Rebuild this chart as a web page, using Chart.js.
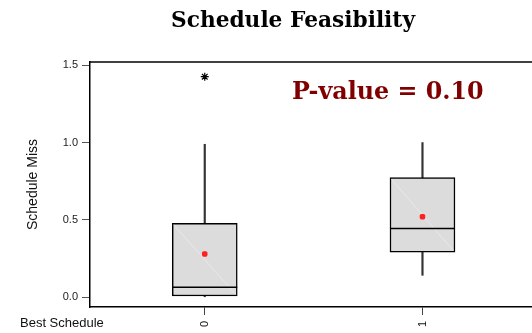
<!DOCTYPE html>
<html>
<head>
<meta charset="utf-8">
<script src="https://cdn.jsdelivr.net/npm/chart.js@4/dist/chart.umd.min.js"></script>
<style>
  html, body { margin: 0; padding: 0; background: #fff; overflow: hidden; }
  canvas { display: block; }
</style>
</head>
<body>
<canvas id="boxChart" width="532" height="333"></canvas>
<script>
// Best Schedule groups (0 / 1)
let groups = [0, 1];
let whiskerLow = [0.0, 0.142];
let q1 = [0.008, 0.291];
let median = [0.065, 0.444];
let q3 = [0.478, 0.773];
let whiskerHigh = [0.989, 1.0];
let means = [0.28, 0.521];
let outlierX = [0];
let outlierY = [1.426];

let yTicks = [0, 0.5, 1.0, 1.5];
let xTicks = [0, 1];

let titleText = 'Schedule Feasibility';
let pValueText = 'P-value = 0.10';
let yTitle = 'Schedule Miss';
let xTitle = 'Best Schedule';

// fit a bold serif string into a given pixel width
function fitFont(ctx, text, family, width) {
    ctx.font = 'bold 100px ' + family;
    let size = 100 * width / ctx.measureText(text).width;
    return 'bold ' + size.toFixed(1) + 'px ' + family;
}

const textPlugin = {
    id: 'textPlugin',
    afterDatasetDraw(chart, args) {
        // faint diagonal inside each box
        if (args.index !== 0) return;
        const ctx = chart.ctx;
        ctx.save();
        ctx.strokeStyle = '#ebebeb';
        ctx.lineWidth = 0.8;
        args.meta.data.forEach(bar => {
            const p = bar.getProps(['x', 'y', 'base', 'width']);
            ctx.beginPath();
            ctx.moveTo(p.x - p.width / 2 + 1.5, p.y + 1.5);
            ctx.lineTo(p.x + p.width / 2 - 1.5, p.base - 1.5);
            ctx.stroke();
        });
        ctx.restore();
    },
    afterDraw(chart) {
        const ctx = chart.ctx;
        const area = chart.chartArea;
        ctx.save();

        // top frame line
        ctx.strokeStyle = '#000';
        ctx.lineWidth = 1.5;
        ctx.beginPath();
        ctx.moveTo(area.left, area.top);
        ctx.lineTo(area.right, area.top);
        ctx.stroke();

        ctx.fillStyle = '#000';
        ctx.textBaseline = 'alphabetic';
        ctx.textAlign = 'center';
        ctx.font = fitFont(ctx, titleText, '"DejaVu Serif", serif', 244);
        ctx.fillText(titleText, 293, 27);

        ctx.fillStyle = '#800000';
        ctx.textAlign = 'left';
        ctx.font = fitFont(ctx, pValueText, '"DejaVu Serif", serif', 192);
        ctx.fillText(pValueText, 292, 99);

        ctx.fillStyle = '#111';
        ctx.font = '13px "Liberation Sans", Arial, sans-serif';
        ctx.fillText(xTitle, 20, 327);
        ctx.restore();
    }
};

const ctx = document.getElementById('boxChart').getContext('2d');

const boxChart = new Chart(ctx, {
    type: 'bar',
    data: {
        datasets: [{
            label: 'box',
            data: groups.map((g, i) => ({ x: g, y: [q1[i], q3[i]] })),
            backgroundColor: '#dcdcdc',
            borderColor: '#000',
            borderWidth: 1.5,
            borderSkipped: false,
            barThickness: 65,
            grouped: false,
            order: 5
        }, {
            label: 'upper whisker',
            data: groups.map((g, i) => ({ x: g, y: [q3[i], whiskerHigh[i]] })),
            backgroundColor: '#333',
            borderWidth: 0,
            barThickness: 1.5,
            grouped: false,
            order: 6
        }, {
            label: 'lower whisker',
            data: groups.map((g, i) => ({ x: g, y: [whiskerLow[i], q1[i]] })),
            backgroundColor: '#333',
            borderWidth: 0,
            barThickness: 1.5,
            grouped: false,
            order: 6
        }, {
            type: 'scatter',
            label: 'median',
            data: groups.map((g, i) => ({ x: g, y: median[i] })),
            pointStyle: 'line',
            pointRadius: 32.5,
            borderColor: '#000',
            borderWidth: 1.5,
            order: 3
        }, {
            type: 'scatter',
            label: 'mean',
            data: groups.map((g, i) => ({ x: g, y: means[i] })),
            pointStyle: 'rectRounded',
            pointRadius: 3.2,
            backgroundColor: '#ff2020',
            borderColor: '#ff2020',
            borderWidth: 0,
            order: 2
        }, {
            type: 'scatter',
            label: 'outlier',
            data: outlierX.map((g, i) => ({ x: g, y: outlierY[i] })),
            pointStyle: 'star',
            pointRadius: 4,
            borderColor: '#000',
            borderWidth: 1.2,
            order: 1
        }]
    },
    options: {
        responsive: false,
        animation: false,
        // the median marks are wide points, keep them from padding the chart area
        layout: { autoPadding: false, padding: { top: 62, left: 0, right: 0, bottom: 0 } },
        plugins: {
            legend: { display: false },
            tooltip: { enabled: false }
        },
        scales: {
            x: {
                type: 'linear',
                min: -0.527,
                max: 1.503,
                offset: false,
                afterBuildTicks: scale => { scale.ticks = xTicks.map(v => ({ value: v })); },
                afterFit: scale => {
                    scale.height = 26;
                    scale.paddingLeft = 0;
                    scale.paddingRight = 0;
                },
                border: { color: '#000', width: 1.5 },
                grid: { display: true, drawOnChartArea: false, drawTicks: true, tickLength: 8, color: '#444', offset: false },
                ticks: {
                    autoSkip: false,
                    minRotation: 90,
                    maxRotation: 90,
                    padding: 6,
                    color: '#111',
                    font: { family: '"Liberation Sans", Arial, sans-serif', size: 11 },
                    callback: v => String(v)
                }
            },
            y: {
                min: -0.063,
                max: 1.521,
                afterBuildTicks: scale => { scale.ticks = yTicks.map(v => ({ value: v })); },
                afterFit: scale => {
                    scale.width = 90;
                    scale.paddingTop = 0;
                    scale.paddingBottom = 0;
                },
                border: { color: '#000', width: 1.5 },
                grid: { display: true, drawOnChartArea: false, drawTicks: true, tickLength: 8, color: '#555' },
                ticks: {
                    padding: 4,
                    color: '#222',
                    font: { family: '"Liberation Sans", Arial, sans-serif', size: 11 },
                    callback: v => v.toFixed(1)
                },
                title: {
                    display: true,
                    text: yTitle,
                    color: '#111',
                    padding: { top: 25, bottom: 0 },
                    font: { family: '"Liberation Sans", Arial, sans-serif', size: 14 }
                }
            }
        }
    },
    plugins: [textPlugin]
});
</script>
</body>
</html>
